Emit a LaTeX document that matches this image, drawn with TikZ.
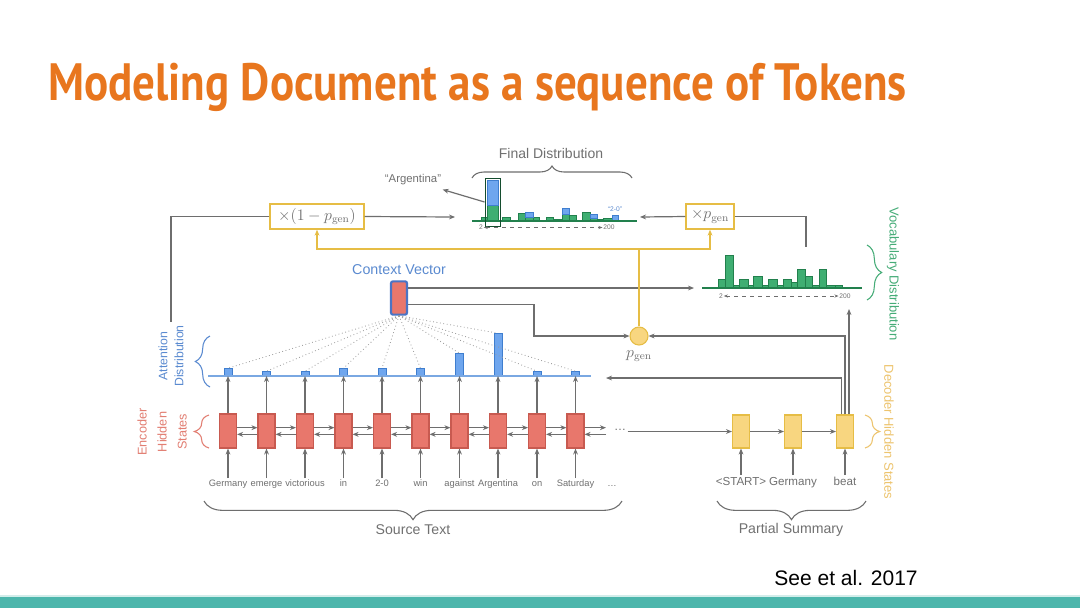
\documentclass[tikz,border=0pt]{standalone}
\usepackage[no-math]{fontspec}
\setmainfont{Liberation Sans}
\newfontfamily\titlefont{PT Sans}
\usetikzlibrary{arrows.meta,decorations.pathreplacing,calc}
\definecolor{lgray}{HTML}{6E6E6E}
\definecolor{tgray}{HTML}{707070}
\definecolor{encfill}{HTML}{E8776C}
\definecolor{encdraw}{HTML}{C85A50}
\definecolor{attfill}{HTML}{6FA6EE}
\definecolor{attdraw}{HTML}{3F7ECF}
\definecolor{attline}{HTML}{7AA8E2}
\definecolor{ctxdraw}{HTML}{4B74C4}
\definecolor{grnfill}{HTML}{3FAE72}
\definecolor{grndraw}{HTML}{22804D}
\definecolor{yfill}{HTML}{F8D680}
\definecolor{ydraw}{HTML}{E6BD45}
\definecolor{lblblue}{HTML}{5A8AD0}
\definecolor{lblred}{HTML}{E27E72}
\definecolor{lblgreen}{HTML}{45AC77}
\definecolor{lblyellow}{HTML}{EDC46E}
\definecolor{titleor}{HTML}{E8761E}
\definecolor{barteal}{HTML}{4DB6AC}
\tikzset{
  ln/.style={draw=lgray, line width=0.9pt},
  arr/.style={ln, -{Stealth[length=4.5pt,width=3.6pt]}},
  yarr/.style={draw=ydraw, line width=1pt, -{Stealth[length=4.5pt,width=3.6pt]}},
  dotl/.style={draw=lgray!70, line width=0.6pt, dotted},
  encbox/.style={draw=encdraw, fill=encfill, line width=0.8pt, minimum width=12.75pt, minimum height=25.5pt, inner sep=0},
  decbox/.style={draw=ydraw, fill=yfill, line width=0.8pt, minimum width=12.75pt, minimum height=24.75pt, inner sep=0},
  ctxbox/.style={draw=ctxdraw, fill=encfill, line width=1.6pt, rounded corners=1.5pt, minimum width=12pt, minimum height=25pt, inner sep=0},
  attbar/.style={draw=attdraw, fill=attfill, line width=0.6pt, minimum width=6pt, inner sep=0, anchor=south},
  gbar/.style={draw=grndraw, fill=grnfill, line width=0.5pt},
  bbar/.style={draw=attdraw, fill=attfill, line width=0.5pt},
  mulbox/.style={draw=ydraw, fill=white, line width=1pt, minimum height=18.75pt, inner sep=0, text=tgray, font=\fontsize{12}{14}\selectfont},
  pgc/.style={circle, draw=ydraw, fill=yfill, line width=0.8pt, minimum size=13.5pt, inner sep=0},
  word/.style={text=tgray, font=\fontsize{7}{8}\selectfont, inner sep=1pt, text height=5pt, text depth=1.5pt},
  dword/.style={text=tgray, font=\fontsize{8.7}{10}\selectfont, inner sep=1pt, text height=6.3pt, text depth=1.8pt},
  lbl/.style={text=tgray, font=\fontsize{10.6}{12}\selectfont, inner sep=1pt},
  tiny/.style={text=tgray, font=\fontsize{5}{6}\selectfont, inner sep=0.5pt},
  brc/.style={decorate, decoration={brace, amplitude=#1}, line width=0.8pt},
}
\begin{document}
\begin{tikzpicture}[x=0.75pt,y=-0.75pt]
\useasboundingbox (0,0) rectangle (1080,608);
\fill[white] (0,0) rectangle (1080,608);
\fill[barteal] (0,597) rectangle (1080,608);
\fill[barteal!25] (0,595) rectangle (1080,597);

% title and citation
\node[anchor=base west, inner sep=0, text=titleor] (title) at (48,100)
  {\resizebox{644pt}{28pt}{\titlefont\bfseries Modeling Document as a sequence of Tokens}};
\node[inner sep=0, font=\fontsize{15.75}{18}\selectfont] (cite) at (846,578) {See et al. 2017};

% encoder, words, attention
\foreach \i/\x/\w/\h in {1/228/Germany/7, 2/266.5/emerge/4, 3/305/victorious/4, 4/343.5/in/7, 5/382/2-0/7,
  6/420.5/win/7, 7/459.5/against/22, 8/498/Argentina/42, 9/537/on/4, 10/575.5/Saturday/4} {
  \node[encbox] (e\i) at (\x,431) {};
  \node[word] (w\i) at (\x,484) {\w};
  \node[attbar, minimum height=\h*0.75pt] (a\i) at (\x,376) {};
}
\draw[attline, line width=1pt] (208,376) -- (591,376);
\node[word] (wdots) at (612,484) {\dots};

\node[ctxbox] (c) at (399,298) {};
\node[text=lblblue, font=\fontsize{10.7}{12}\selectfont, inner sep=1pt] (clab) at (399,270) {Context Vector};

\foreach \i in {1,...,10} {
  \draw[arr] (w\i.north) -- (e\i.south);
  \draw[arr] (e\i.north) -- (a\i.south);
  \draw[dotl] (c.south) -- (a\i.north);
}
\foreach \i [evaluate=\i as \j using int(\i+1)] in {1,...,9} {
  \draw[arr] ([yshift=2.5pt]e\i.east) -- ([yshift=2.5pt]e\j.west);
  \draw[arr] ([yshift=-2.5pt]e\j.west) -- ([yshift=-2.5pt]e\i.east);
}
\coordinate (eend) at (606,431);
\draw[arr] ([yshift=2.5pt]e10.east) -- ([yshift=2.5pt]eend);
\draw[arr] ([yshift=-2.5pt]eend) -- ([yshift=-2.5pt]e10.east);
\node[text=tgray, inner sep=1pt, font=\fontsize{9}{10}\selectfont] (edots) at (620,430) {\dots};

% decoder
\node[decbox] (d1) at (741,431.5) {};
\node[decbox] (d2) at (793,431.5) {};
\node[decbox] (d3) at (845,431.5) {};
\node[dword] (s1) at (741,482) {\textless START\textgreater};
\node[dword] (s2) at (793,482) {Germany};
\node[dword] (s3) at (845,482) {beat};
\foreach \i in {1,2,3} { \draw[arr] (s\i.north) -- (d\i.south); }
\draw[arr] (edots.east |- d1.west) -- (d1.west);
\draw[arr] (d1.east) -- (d2.west);
\draw[arr] (d2.east) -- (d3.west);

% p_gen
\node[pgc] (p) at (639,336) {};
\node[text=tgray, inner sep=1pt, font=\fontsize{12}{14}\selectfont] (plab) at (639,356) {$p_{\mathrm{gen}}$};
\coordinate (vin) at (694,288);
\draw[arr] ([yshift=7.5pt]c.east) -- (vin);
\draw[arr] ([yshift=-5pt]c.east) -- ++(126,0) |- (p.west);

\coordinate (attr) at (606,378);
\coordinate (vbot) at (849,309);
\draw[arr] ([xshift=-2.5pt]d3.north) |- (attr);
\draw[arr] (d3.north) |- (p.east);
\draw[arr] ([xshift=3pt]d3.north) -- (vbot);

% multiplier boxes
\node[mulbox, minimum width=70.5pt] (m1) at (317,216.5) {$\times(1-p_{\mathrm{gen}})$};
\node[mulbox, minimum width=36pt] (m2) at (710,216.5) {$\times p_{\mathrm{gen}}$};
\coordinate (yj) at (639,249);
\draw[yarr] (p.north) -- (yj) -| (m1.south);
\draw[yarr] (yj) -| (m2.south);
\coordinate (fin) at (455,217);
\coordinate (finr) at (640,217);
\coordinate (attl) at (171,322);
\coordinate (voct) at (806,247);
\draw[arr] (m1.east) -- (fin);
\draw[arr] (m2.west) -- (finr);
\draw[ln] (m1.west) -| (attl);
\draw[ln] (m2.east) -| (voct);

% final distribution
\foreach \a/\b/\t in {481/487/217, 487/498/205, 502/510/217, 518/525/213, 525/533/217, 533/539/217, 546/553/217,
  553/562/219, 562/569/214, 569/576/215, 582/590/212, 590/597/218, 597/603/219, 603/612/218, 612/618/220} {
  \draw[gbar] (\a,221) rectangle (\b,\t);
}
\foreach \a/\b/\t/\u in {487/498/180/205, 525/533/212/217, 562/569/208/214, 590/597/214/218, 612/618/215/220} {
  \draw[bbar] (\a,\u) rectangle (\b,\t);
}
\draw[grndraw, line width=1pt] (472,221) -- (637,221);
\node[draw=grndraw!60!black, line width=0.7pt, minimum width=11.25pt, minimum height=36pt, inner sep=0] (fa) at (492.5,202) {};
\node[tiny] (f2) at (481,227.5) {2};
\node[tiny] (f200) at (609,227.5) {200};
\draw[lgray, line width=0.5pt, dashed, {Stealth[length=3pt]}-{Stealth[length=3pt]}] (f2.east) -- (f200.west);
\node[tiny, text=lblblue] (f20) at (615,209) {``2-0''};
\node[text=tgray, inner sep=1pt, font=\fontsize{8.5}{10}\selectfont] (arg) at (413,180) {``Argentina''};
\draw[arr] (fa.west) -- ([yshift=-2pt]arg.south east);
\draw[brc=9pt, lgray] (472,178) -- (632,178);
\node[lbl, font=\fontsize{10.5}{12}\selectfont] (flab) at (551,153) {Final Distribution};

% vocabulary distribution
\foreach \a/\b/\t in {718/725/279, 725/733/255, 733/739/285, 739/748/279, 748/753/285, 753/762/276, 762/768/285,
  768/777/279, 777/783/285, 783/791/279, 791/797/282, 797/805/269, 805/812/276, 812/819/285, 819/826/269,
  826/835/285, 835/842/285, 842/848/287} {
  \draw[gbar] (\a,288) rectangle (\b,\t);
}
\draw[grndraw, line width=1pt] (702,288) -- (862,288);
\node[tiny] (v2) at (721,296) {2};
\node[tiny] (v200) at (845,296) {200};
\draw[lgray, line width=0.5pt, dashed, {Stealth[length=3pt]}-{Stealth[length=3pt]}] (v2.east) -- (v200.west);

% braces and side labels
\draw[brc=14pt, lgray] (622,501) -- (204,501);
\node[lbl] (srclab) at (413,530) {Source Text};
\draw[brc=14pt, lgray] (866,501) -- (717,501);
\node[lbl] (pslab) at (791,530) {Partial Summary};

\draw[brc=11pt, lblred] (209,448) -- (209,415);
\node[rotate=90, align=center, text=lblred, inner sep=0, font=\fontsize{9.5}{15}\selectfont] (enclab) at (162,432) {Encoder\\Hidden\\States};
\draw[brc=11pt, lblblue] (210,387) -- (210,336);
\node[rotate=90, align=center, text=lblblue, inner sep=0, font=\fontsize{9.2}{12}\selectfont] (attlab) at (171,356) {Attention\\Distribution};
\draw[brc=11pt, lblyellow] (865,415) -- (865,448);
\node[rotate=-90, text=lblyellow, inner sep=0, font=\fontsize{9.75}{12}\selectfont] (declab) at (889,432) {Decoder Hidden States};
\draw[brc=11pt, lblgreen] (867,245) -- (867,300);
\node[rotate=-90, text=lblgreen, inner sep=0, font=\fontsize{9.75}{12}\selectfont] (voclab) at (893,274) {Vocabulary Distribution};
\end{tikzpicture}
\end{document}
